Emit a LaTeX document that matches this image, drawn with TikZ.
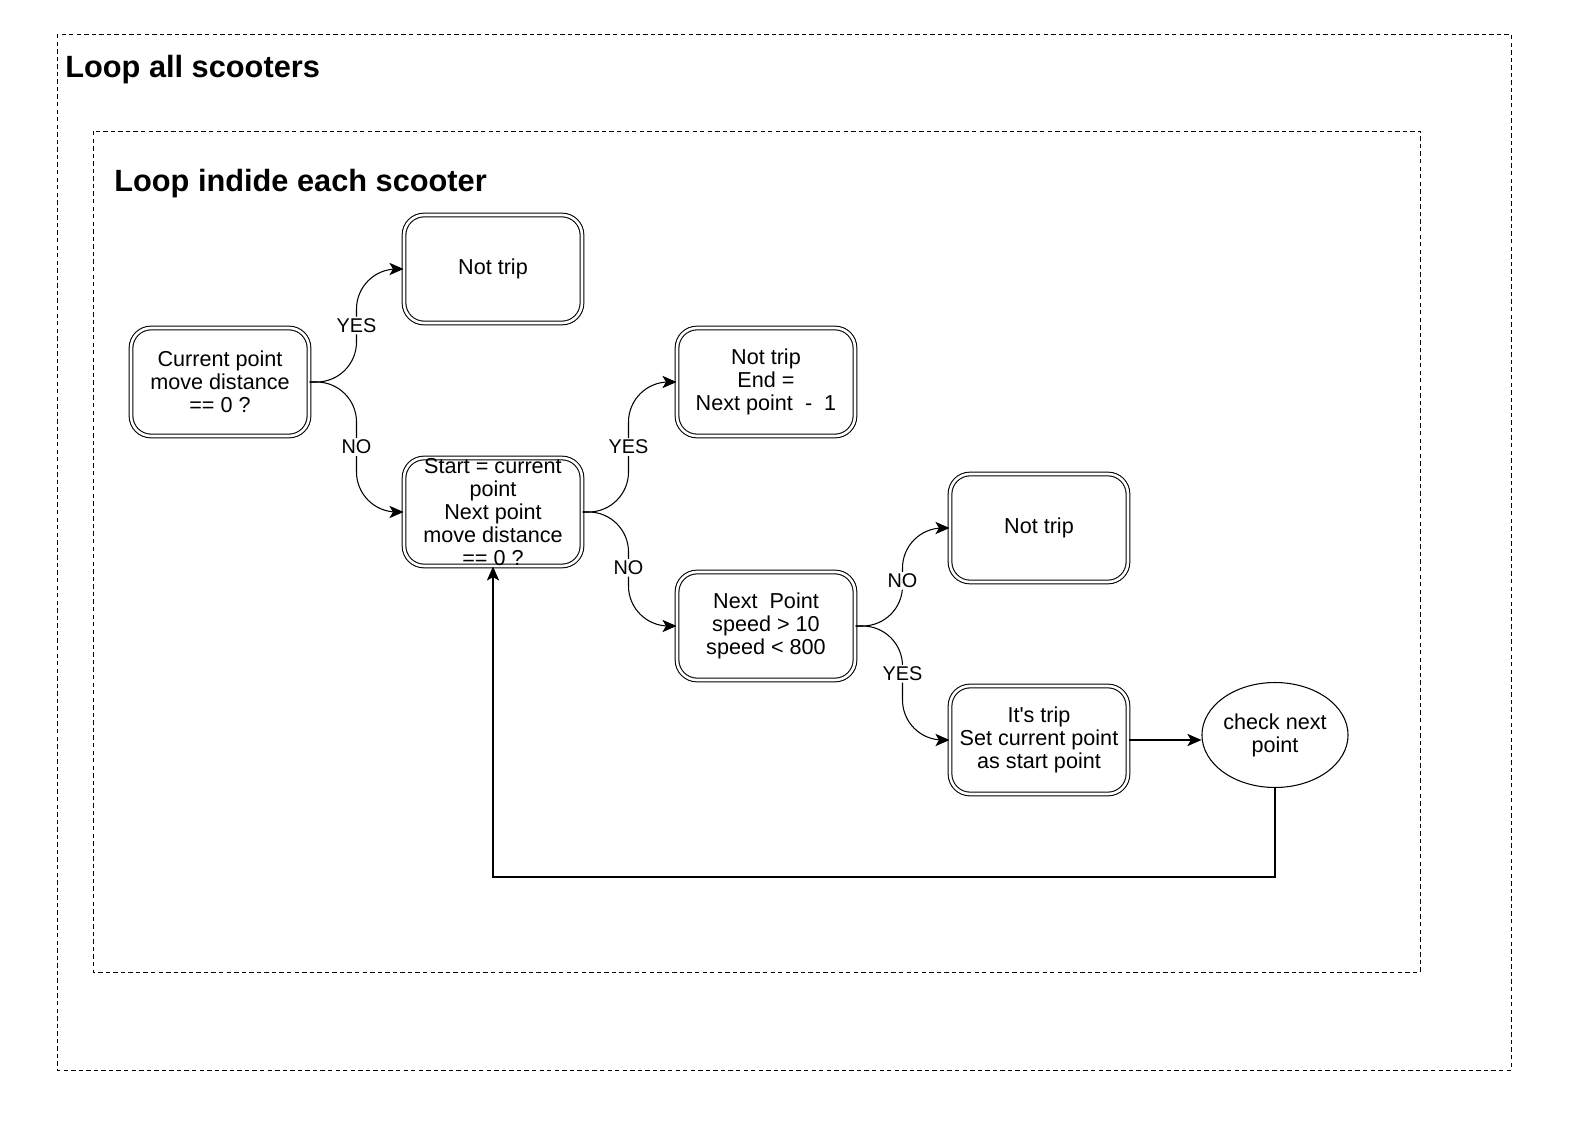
\documentclass[tikz,border=0pt]{standalone}
\usepackage{fontspec}
\setmainfont{Liberation Sans}[Ligatures=TeXOff]
\usetikzlibrary{arrows.meta,shapes.geometric}
\tikzset{
  box/.style={draw, double, double distance=1.5pt, line width=0.6pt, rounded corners=0.4cm,
    minimum width=3.56cm, minimum height=2.16cm, inner sep=0pt, align=center,
    font=\fontsize{12.3}{13.1}\selectfont},
  ell/.style={draw, ellipse, line width=0.6pt, minimum width=2.92cm, minimum height=2.1cm,
    inner sep=0pt, align=center, font=\fontsize{12.3}{13.1}\selectfont},
  arr/.style={-{Stealth[length=8pt,width=7pt,inset=2pt]}, line width=0.6pt},
  branch/.style={arr, rounded corners=0.8cm},
  lbl/.style={fill=white, inner sep=1pt, font=\fontsize{11.3}{12}\selectfont},
  frame/.style={line width=0.5pt, dash pattern=on 2.5pt off 1.8pt},
  title/.style={anchor=west, inner sep=0pt, font=\fontsize{17.5}{20}\selectfont\bfseries}
}

\begin{document}
\begin{tikzpicture}[x=0.02cm, y=-0.02cm]
  %%%%% START %%%%%
  \useasboundingbox (0,0) rectangle (1570,1122);

  \draw[frame] (57,34) rectangle (1511,1070);
  \node[title] (outer) at (65,70) {Loop all scooters};

  \draw[frame] (93,131) rectangle (1420,972);
  \node[title] (inner) at (114,184) {Loop indide each scooter};

  \node[box] (cur) at (220,382) {Current point\\move distance\\== 0 ?};
  \node[box] (nt1) at (493,269) {Not trip};
  \node[box] (start) at (493,512) {Start = current\\point\\Next point\\move distance\\== 0 ?};
  \node[box] (nt2) at (766,382) {Not trip\\End =\\Next point \ - \ 1};
  \node[box] (next) at (766,626) {Next \ Point\\speed > 10\\speed < 800};
  \node[box] (nt3) at (1039,528) {Not trip};
  \node[box] (trip) at (1039,740) {It's trip\\Set current point\\as start point};
  \node[ell] (check) at (1275,735) {check next\\point};

  \draw[branch] (cur.east) -- ++(47,0) |- node[lbl, pos=0.25] {YES} (nt1.west);
  \draw[branch] (cur.east) -- ++(47,0) |- node[lbl, pos=0.25] {NO} (start.west);
  \draw[branch] (start.east) -- ++(46,0) |- node[lbl, pos=0.25] {YES} (nt2.west);
  \draw[branch] (start.east) -- ++(46,0) |- node[lbl, pos=0.245] {NO} (next.west);
  \draw[branch] (next.east) -- ++(47,0) |- node[lbl, pos=0.23] {NO} (nt3.west);
  \draw[branch] (next.east) -- ++(47,0) |- node[lbl, pos=0.21] {YES} (trip.west);
  \draw[arr] (trip.east) -- (trip.east -| check.west);
  \draw[arr] (check.south) -- ++(0,89) -| (start.south);
  %%%%% END %%%%%
\end{tikzpicture}
\end{document}
